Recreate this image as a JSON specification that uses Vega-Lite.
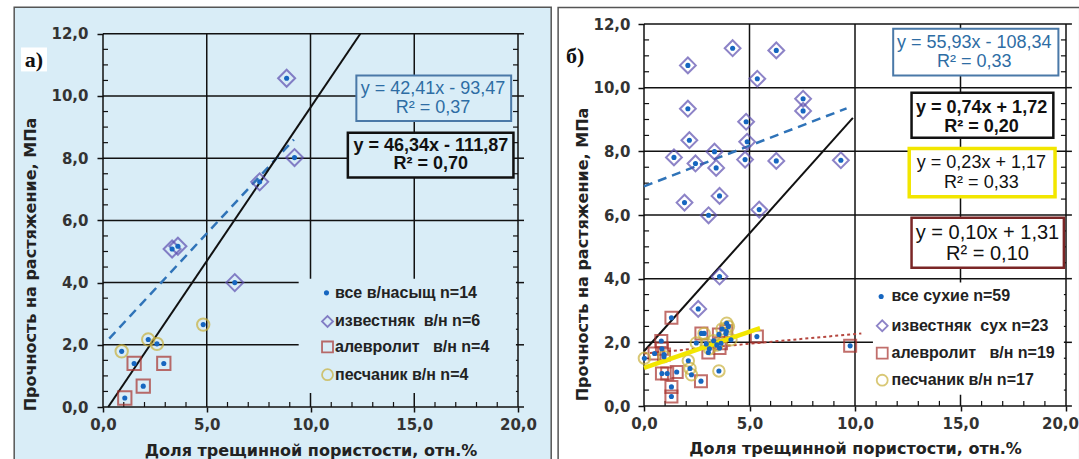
{
  "$schema": "https://vega.github.io/schema/vega-lite/v6.json",
  "background": "white",
  "padding": {"left": 13, "top": 6, "right": 0, "bottom": 0},
  "spacing": 5,
  "config": {
    "view": {"stroke": null},
    "axis": {
      "grid": false, "domain": false,
      "tickColor": "#111", "tickWidth": 1.5,
      "labelFont": "DejaVu Sans", "labelFontWeight": "bold", "labelFontSize": 15, "labelColor": "#333",
      "labelFlush": false, "labelOverlap": false,
      "labelExpr": "replace(format(datum.value, '.1f'), '.', ',')",
      "titleFont": "DejaVu Sans", "titleFontWeight": "bold", "titleFontSize": 16, "titleColor": "#222"
    }
  },
  "datasets": {
    "a_pts": [
      {"x": 8.85, "y": 10.57, "k": "известняк"},
      {"x": 9.23, "y": 8.02, "k": "известняк"},
      {"x": 7.55, "y": 7.24, "k": "известняк"},
      {"x": 3.33, "y": 5.08, "k": "известняк"},
      {"x": 3.61, "y": 5.17, "k": "известняк"},
      {"x": 6.35, "y": 4.0, "k": "известняк"},
      {"x": 1.05, "y": 0.29, "k": "алевролит"},
      {"x": 1.94, "y": 0.67, "k": "алевролит"},
      {"x": 1.5, "y": 1.4, "k": "алевролит"},
      {"x": 2.93, "y": 1.4, "k": "алевролит"},
      {"x": 0.9, "y": 1.79, "k": "песчаник"},
      {"x": 2.18, "y": 2.17, "k": "песчаник"},
      {"x": 2.6, "y": 2.03, "k": "песчаник"},
      {"x": 4.83, "y": 2.65, "k": "песчаник"}
    ],
    "b_pts": [
      {"x": 4.2, "y": 11.24, "k": "известняк"},
      {"x": 6.27, "y": 11.17, "k": "известняк"},
      {"x": 2.08, "y": 10.7, "k": "известняк"},
      {"x": 5.37, "y": 10.28, "k": "известняк"},
      {"x": 7.54, "y": 9.65, "k": "известняк"},
      {"x": 7.54, "y": 9.27, "k": "известняк"},
      {"x": 2.08, "y": 9.34, "k": "известняк"},
      {"x": 4.84, "y": 8.93, "k": "известняк"},
      {"x": 2.15, "y": 8.35, "k": "известняк"},
      {"x": 4.89, "y": 8.3, "k": "известняк"},
      {"x": 3.34, "y": 7.99, "k": "известняк"},
      {"x": 1.42, "y": 7.81, "k": "известняк"},
      {"x": 2.44, "y": 7.62, "k": "известняк"},
      {"x": 3.42, "y": 7.48, "k": "известняк"},
      {"x": 4.79, "y": 7.74, "k": "известняк"},
      {"x": 6.27, "y": 7.7, "k": "известняк"},
      {"x": 9.33, "y": 7.72, "k": "известняк"},
      {"x": 3.58, "y": 6.6, "k": "известняк"},
      {"x": 1.92, "y": 6.39, "k": "известняк"},
      {"x": 3.06, "y": 5.99, "k": "известняк"},
      {"x": 5.46, "y": 6.17, "k": "известняк"},
      {"x": 3.58, "y": 4.07, "k": "известняк"},
      {"x": 2.57, "y": 3.05, "k": "известняк"},
      {"x": 1.3, "y": 2.77, "k": "алевролит"},
      {"x": 0.82, "y": 2.04, "k": "алевролит"},
      {"x": 0.85, "y": 1.8, "k": "алевролит"},
      {"x": 0.5, "y": 1.65, "k": "алевролит"},
      {"x": 0.95, "y": 1.62, "k": "алевролит"},
      {"x": 0.85, "y": 1.02, "k": "алевролит"},
      {"x": 1.1, "y": 1.02, "k": "алевролит"},
      {"x": 1.55, "y": 1.07, "k": "алевролит"},
      {"x": 1.3, "y": 0.6, "k": "алевролит"},
      {"x": 1.3, "y": 0.3, "k": "алевролит"},
      {"x": 2.7, "y": 0.78, "k": "алевролит"},
      {"x": 2.72, "y": 2.28, "k": "алевролит"},
      {"x": 3.05, "y": 1.68, "k": "алевролит"},
      {"x": 3.55, "y": 2.25, "k": "алевролит"},
      {"x": 3.65, "y": 1.97, "k": "алевролит"},
      {"x": 3.58, "y": 1.82, "k": "алевролит"},
      {"x": 3.9, "y": 2.35, "k": "алевролит"},
      {"x": 5.35, "y": 2.18, "k": "алевролит"},
      {"x": 9.77, "y": 1.89, "k": "алевролит"},
      {"x": 0.02, "y": 1.5, "k": "песчаник"},
      {"x": 0.95, "y": 1.55, "k": "песчаник"},
      {"x": 2.1, "y": 1.42, "k": "песчаник"},
      {"x": 2.18, "y": 1.18, "k": "песчаник"},
      {"x": 2.25, "y": 0.98, "k": "песчаник"},
      {"x": 3.55, "y": 1.1, "k": "песчаник"},
      {"x": 2.48, "y": 1.98, "k": "песчаник"},
      {"x": 2.85, "y": 2.28, "k": "песчаник"},
      {"x": 3.1, "y": 1.8, "k": "песчаник"},
      {"x": 3.3, "y": 2.05, "k": "песчаник"},
      {"x": 3.92, "y": 2.6, "k": "песчаник"},
      {"x": 3.7, "y": 2.42, "k": "песчаник"},
      {"x": 4.12, "y": 2.08, "k": "песчаник"},
      {"x": 3.88, "y": 2.28, "k": "песчаник"},
      {"x": 2.95, "y": 1.95, "k": "песчаник"},
      {"x": 3.45, "y": 1.92, "k": "песчаник"},
      {"x": 4.0, "y": 2.5, "k": "песчаник"}
    ],
    "vgrid": [{"x": 0}, {"x": 5}, {"x": 10}, {"x": 15}, {"x": 20}],
    "hgrid": [{"y": 0}, {"y": 2}, {"y": 4}, {"y": 6}, {"y": 8}, {"y": 10}, {"y": 12}],
    "xminor": [{"x": 1}, {"x": 2}, {"x": 3}, {"x": 4}, {"x": 6}, {"x": 7}, {"x": 8}, {"x": 9}, {"x": 11}, {"x": 12}, {"x": 13}, {"x": 14}, {"x": 16}, {"x": 17}, {"x": 18}, {"x": 19}],
    "yminor": [{"y": 0.5}, {"y": 1}, {"y": 1.5}, {"y": 2.5}, {"y": 3}, {"y": 3.5}, {"y": 4.5}, {"y": 5}, {"y": 5.5}, {"y": 6.5}, {"y": 7}, {"y": 7.5}, {"y": 8.5}, {"y": 9}, {"y": 9.5}, {"y": 10.5}, {"y": 11}, {"y": 11.5}],
    "ymajor": [{"y": 0}, {"y": 2}, {"y": 4}, {"y": 6}, {"y": 8}, {"y": 10}, {"y": 12}]
  },
  "hconcat": [
    {
      "width": 415,
      "height": 383,
      "layer": [
        {
          "data": {"values": [{}]},
          "mark": {"type": "rect", "fill": "#d9edf7", "stroke": "#555555", "strokeWidth": 1.5},
          "encoding": {
            "x": {"datum": -4.28, "type": "quantitative", "scale": {"domain": [0, 20], "nice": false, "zero": false},
              "axis": {"zindex": 1, "values": [0, 5, 10, 15, 20], "title": "Доля трещинной пористости, отн.%", "tickSize": 5, "labelPadding": 5, "titlePadding": 10}},
            "x2": {"datum": 21.6},
            "y": {"datum": -1.75, "type": "quantitative", "scale": {"domain": [0, 12.315], "nice": false, "zero": false},
              "axis": {"zindex": 1, "values": [0, 2, 4, 6, 8, 10, 12], "title": "Прочность на растяжение, МПа", "tickSize": 6, "labelPadding": 9, "titlePadding": 12, "titleY": 240}},
            "y2": {"datum": 12.85}
          }
        },
        {
          "data": {"values": [{}]},
          "mark": {"type": "rect", "fill": "white"},
          "encoding": {"x": {"datum": -3.95}, "x2": {"datum": -2.7}, "y": {"datum": 10.79}, "y2": {"datum": 11.56}}
        },
        {
          "data": {"values": [{"t": "а)", "x": -3.33, "y": 11.15}]},
          "mark": {"type": "text", "font": "Liberation Serif", "fontWeight": "bold", "fontSize": 22, "color": "#111", "baseline": "middle"},
          "encoding": {"x": {"field": "x", "type": "quantitative"}, "y": {"field": "y", "type": "quantitative"}, "text": {"field": "t"}}
        },
        {
          "data": {"name": "vgrid"},
          "mark": {"type": "rule", "color": "#111", "strokeWidth": 1.5},
          "encoding": {"x": {"field": "x", "type": "quantitative"}, "y": {"datum": 0}, "y2": {"datum": 12}}
        },
        {
          "data": {"name": "hgrid"},
          "mark": {"type": "rule", "color": "#111", "strokeWidth": 1.5},
          "encoding": {"y": {"field": "y", "type": "quantitative"}, "x": {"datum": 0}, "x2": {"datum": 20}}
        },
        {
          "data": {"name": "xminor"},
          "mark": {"type": "rule", "color": "#111", "strokeWidth": 1.2},
          "encoding": {"x": {"field": "x", "type": "quantitative"}, "y": {"datum": 0}, "y2": {"datum": 0.16}}
        },
        {
          "data": {"name": "yminor"},
          "mark": {"type": "rule", "color": "#111", "strokeWidth": 1.2},
          "encoding": {"y": {"field": "y", "type": "quantitative"}, "x": {"datum": 0}, "x2": {"datum": 0.24}}
        },
        {
          "data": {"name": "yminor"},
          "mark": {"type": "rule", "color": "#111", "strokeWidth": 1.2},
          "encoding": {"y": {"field": "y", "type": "quantitative"}, "x": {"datum": 19.76}, "x2": {"datum": 20}}
        },
        {
          "data": {"name": "ymajor"},
          "mark": {"type": "rule", "color": "#111", "strokeWidth": 1.5},
          "encoding": {"y": {"field": "y", "type": "quantitative"}, "x": {"datum": 20}, "x2": {"datum": 20.29}}
        },
        {
          "data": {"values": [{"x": 0.3, "y": 2.2}, {"x": 9.2, "y": 8.6}]},
          "mark": {"type": "line", "color": "#2f73b8", "strokeWidth": 2.5, "strokeDash": [9, 6]},
          "encoding": {"x": {"field": "x", "type": "quantitative"}, "y": {"field": "y", "type": "quantitative"}}
        },
        {
          "data": {"values": [{"x": 0.25, "y": 0}, {"x": 12.4, "y": 12}]},
          "mark": {"type": "line", "color": "#111", "strokeWidth": 2},
          "encoding": {"x": {"field": "x", "type": "quantitative"}, "y": {"field": "y", "type": "quantitative"}}
        },
        {
          "data": {"name": "a_pts"},
          "transform": [{"filter": "datum.k === 'известняк'"}],
          "mark": {"type": "point", "shape": "diamond", "filled": false, "color": "#5d4fb0", "strokeWidth": 2, "size": 289},
          "encoding": {"x": {"field": "x", "type": "quantitative"}, "y": {"field": "y", "type": "quantitative"}}
        },
        {
          "data": {"name": "a_pts"},
          "transform": [{"filter": "datum.k === 'алевролит'"}],
          "mark": {"type": "point", "shape": "square", "filled": false, "color": "#a8322d", "strokeWidth": 2, "size": 177},
          "encoding": {"x": {"field": "x", "type": "quantitative"}, "y": {"field": "y", "type": "quantitative"}}
        },
        {
          "data": {"name": "a_pts"},
          "transform": [{"filter": "datum.k === 'песчаник'"}],
          "mark": {"type": "point", "shape": "circle", "filled": false, "color": "#c9b13c", "strokeWidth": 2, "size": 154},
          "encoding": {"x": {"field": "x", "type": "quantitative"}, "y": {"field": "y", "type": "quantitative"}}
        },
        {
          "data": {"name": "a_pts"},
          "mark": {"type": "circle", "color": "#1666c0", "opacity": 1, "size": 26},
          "encoding": {"x": {"field": "x", "type": "quantitative"}, "y": {"field": "y", "type": "quantitative"}}
        },
        {
          "data": {"values": [{"x": 12.21, "x2": 19.67, "y": 9.2, "y2": 10.66}]},
          "mark": {"type": "rect", "fill": "#d9edf7", "stroke": "#4a79a8", "strokeWidth": 2},
          "encoding": {"x": {"field": "x", "type": "quantitative"}, "x2": {"field": "x2"}, "y": {"field": "y", "type": "quantitative"}, "y2": {"field": "y2"}}
        },
        {
          "data": {"values": [{"x": 11.8, "x2": 19.78, "y": 7.38, "y2": 8.82}]},
          "mark": {"type": "rect", "fill": "#d9edf7", "stroke": "#111", "strokeWidth": 2.5},
          "encoding": {"x": {"field": "x", "type": "quantitative"}, "x2": {"field": "x2"}, "y": {"field": "y", "type": "quantitative"}, "y2": {"field": "y2"}}
        },
        {
          "data": {"values": [{"x": 15.9, "y": 10.21, "t": "y = 42,41x - 93,47"}, {"x": 15.9, "y": 9.63, "t": "R² = 0,37"}]},
          "mark": {"type": "text", "font": "Liberation Sans", "fontSize": 18, "color": "#2e6da4", "baseline": "middle"},
          "encoding": {"x": {"field": "x", "type": "quantitative"}, "y": {"field": "y", "type": "quantitative"}, "text": {"field": "t"}}
        },
        {
          "data": {"values": [{"x": 15.8, "y": 8.4, "t": "y = 46,34x - 111,87"}, {"x": 15.8, "y": 7.81, "t": "R² = 0,70"}]},
          "mark": {"type": "text", "font": "Liberation Sans", "fontSize": 18, "fontWeight": "bold", "color": "#111", "baseline": "middle"},
          "encoding": {"x": {"field": "x", "type": "quantitative"}, "y": {"field": "y", "type": "quantitative"}, "text": {"field": "t"}}
        },
        {
          "data": {"values": [{}]},
          "mark": {"type": "rect", "fill": "#d9edf7"},
          "encoding": {"x": {"datum": 9.43}, "x2": {"datum": 19.9}, "y": {"datum": 0.45}, "y2": {"datum": 4.12}}
        },
        {
          "data": {"values": [{"x": 10.82, "y": 2.75, "k": "известняк"}, {"x": 10.82, "y": 1.93, "k": "алевролит"}, {"x": 10.82, "y": 1.04, "k": "песчаник"}]},
          "mark": {"type": "point", "filled": false, "strokeWidth": 1.8, "size": 120},
          "encoding": {
            "x": {"field": "x", "type": "quantitative"},
            "y": {"field": "y", "type": "quantitative"},
            "shape": {"field": "k", "type": "nominal", "scale": {"domain": ["известняк", "алевролит", "песчаник"], "range": ["diamond", "square", "circle"]}, "legend": null},
            "color": {"field": "k", "type": "nominal", "scale": {"domain": ["известняк", "алевролит", "песчаник"], "range": ["#5d4fb0", "#a8322d", "#c9b13c"]}, "legend": null}
          }
        },
        {
          "data": {"values": [{"x": 10.77, "y": 3.67}]},
          "mark": {"type": "circle", "color": "#1666c0", "opacity": 1, "size": 26},
          "encoding": {"x": {"field": "x", "type": "quantitative"}, "y": {"field": "y", "type": "quantitative"}}
        },
        {
          "data": {"values": [
            {"x": 11.18, "y": 3.67, "t": "все в/насыщ n=14"},
            {"x": 11.18, "y": 2.75, "t": "известняк\u00a0 в/н n=6"},
            {"x": 11.18, "y": 1.93, "t": "алевролит\u00a0\u00a0 в/н n=4"},
            {"x": 11.18, "y": 1.04, "t": "песчаник в/н n=4"}
          ]},
          "mark": {"type": "text", "font": "Liberation Sans", "fontSize": 16, "fontWeight": "bold", "color": "#222", "align": "left", "baseline": "middle"},
          "encoding": {"x": {"field": "x", "type": "quantitative"}, "y": {"field": "y", "type": "quantitative"}, "text": {"field": "t"}}
        }
      ]
    },
    {
      "width": 422,
      "height": 382,
      "layer": [
        {
          "data": {"values": [{}]},
          "mark": {"type": "rect", "fill": "white", "stroke": "#555555", "strokeWidth": 1.5},
          "encoding": {
            "x": {"datum": -4.07, "type": "quantitative", "scale": {"domain": [0, 20], "nice": false, "zero": false},
              "axis": {"zindex": 1, "values": [0, 5, 10, 15, 20], "title": "Доля трещинной пористости, отн.%", "tickSize": 5, "labelPadding": 5, "titlePadding": 9,
                "labelOffset": {"condition": {"test": "datum.value === 20", "value": -6}, "value": 0}}},
            "x2": {"datum": 20.65},
            "y": {"datum": -1.75, "type": "quantitative", "scale": {"domain": [0, 12], "nice": false, "zero": false},
              "axis": {"zindex": 1, "values": [0, 2, 4, 6, 8, 10, 12], "title": "Прочность на растяжение, МПа", "tickSize": 6, "labelPadding": 8, "titlePadding": 2, "titleY": 230}},
            "y2": {"datum": 12.52}
          }
        },
        {
          "data": {"values": [{"t": "б)", "x": -3.26, "y": 10.98}]},
          "mark": {"type": "text", "font": "Liberation Serif", "fontWeight": "bold", "fontSize": 22, "color": "#111", "baseline": "middle"},
          "encoding": {"x": {"field": "x", "type": "quantitative"}, "y": {"field": "y", "type": "quantitative"}, "text": {"field": "t"}}
        },
        {
          "data": {"name": "vgrid"},
          "mark": {"type": "rule", "color": "#111", "strokeWidth": 1.5},
          "encoding": {"x": {"field": "x", "type": "quantitative"}, "y": {"datum": 0}, "y2": {"datum": 12}}
        },
        {
          "data": {"name": "hgrid"},
          "mark": {"type": "rule", "color": "#111", "strokeWidth": 1.5},
          "encoding": {"y": {"field": "y", "type": "quantitative"}, "x": {"datum": 0}, "x2": {"datum": 20}}
        },
        {
          "data": {"name": "xminor"},
          "mark": {"type": "rule", "color": "#111", "strokeWidth": 1.2},
          "encoding": {"x": {"field": "x", "type": "quantitative"}, "y": {"datum": 0}, "y2": {"datum": 0.16}}
        },
        {
          "data": {"name": "yminor"},
          "mark": {"type": "rule", "color": "#111", "strokeWidth": 1.2},
          "encoding": {"y": {"field": "y", "type": "quantitative"}, "x": {"datum": 0}, "x2": {"datum": 0.24}}
        },
        {
          "data": {"name": "yminor"},
          "mark": {"type": "rule", "color": "#111", "strokeWidth": 1.2},
          "encoding": {"y": {"field": "y", "type": "quantitative"}, "x": {"datum": 19.76}, "x2": {"datum": 20}}
        },
        {
          "data": {"name": "ymajor"},
          "mark": {"type": "rule", "color": "#111", "strokeWidth": 1.5},
          "encoding": {"y": {"field": "y", "type": "quantitative"}, "x": {"datum": 20}, "x2": {"datum": 20.28}}
        },
        {
          "data": {"values": [{"x": 0, "y": 6.9}, {"x": 9.6, "y": 9.35}]},
          "mark": {"type": "line", "color": "#2f73b8", "strokeWidth": 2.5, "strokeDash": [9, 6]},
          "encoding": {"x": {"field": "x", "type": "quantitative"}, "y": {"field": "y", "type": "quantitative"}}
        },
        {
          "data": {"values": [{"x": 0, "y": 1.65}, {"x": 10.3, "y": 2.28}]},
          "mark": {"type": "line", "color": "#b5473f", "strokeWidth": 2, "strokeDash": [3, 3]},
          "encoding": {"x": {"field": "x", "type": "quantitative"}, "y": {"field": "y", "type": "quantitative"}}
        },
        {
          "data": {"values": [{"x": 0, "y": 1.72}, {"x": 9.9, "y": 9.05}]},
          "mark": {"type": "line", "color": "#111", "strokeWidth": 2},
          "encoding": {"x": {"field": "x", "type": "quantitative"}, "y": {"field": "y", "type": "quantitative"}}
        },
        {
          "data": {"name": "b_pts"},
          "transform": [{"filter": "datum.k === 'известняк'"}],
          "mark": {"type": "point", "shape": "diamond", "filled": false, "color": "#5d4fb0", "strokeWidth": 2, "size": 250},
          "encoding": {"x": {"field": "x", "type": "quantitative"}, "y": {"field": "y", "type": "quantitative"}}
        },
        {
          "data": {"name": "b_pts"},
          "transform": [{"filter": "datum.k === 'алевролит'"}],
          "mark": {"type": "point", "shape": "square", "filled": false, "color": "#a8322d", "strokeWidth": 2, "size": 144},
          "encoding": {"x": {"field": "x", "type": "quantitative"}, "y": {"field": "y", "type": "quantitative"}}
        },
        {
          "data": {"name": "b_pts"},
          "transform": [{"filter": "datum.k === 'песчаник'"}],
          "mark": {"type": "point", "shape": "circle", "filled": false, "color": "#c9b13c", "strokeWidth": 2, "size": 133},
          "encoding": {"x": {"field": "x", "type": "quantitative"}, "y": {"field": "y", "type": "quantitative"}}
        },
        {
          "data": {"values": [{"x": 0, "y": 1.2}, {"x": 5.5, "y": 2.45}]},
          "mark": {"type": "line", "color": "#f2e600", "strokeWidth": 4.5},
          "encoding": {"x": {"field": "x", "type": "quantitative"}, "y": {"field": "y", "type": "quantitative"}}
        },
        {
          "data": {"name": "b_pts"},
          "mark": {"type": "circle", "color": "#1666c0", "opacity": 1, "size": 26},
          "encoding": {"x": {"field": "x", "type": "quantitative"}, "y": {"field": "y", "type": "quantitative"}}
        },
        {
          "data": {"values": [{"x": 11.81, "x2": 19.64, "y": 10.38, "y2": 11.85}]},
          "mark": {"type": "rect", "fill": "white", "stroke": "#4a79a8", "strokeWidth": 2},
          "encoding": {"x": {"field": "x", "type": "quantitative"}, "x2": {"field": "x2"}, "y": {"field": "y", "type": "quantitative"}, "y2": {"field": "y2"}}
        },
        {
          "data": {"values": [{"x": 12.68, "x2": 19.4, "y": 8.43, "y2": 9.84}]},
          "mark": {"type": "rect", "fill": "white", "stroke": "#111", "strokeWidth": 2.5},
          "encoding": {"x": {"field": "x", "type": "quantitative"}, "x2": {"field": "x2"}, "y": {"field": "y", "type": "quantitative"}, "y2": {"field": "y2"}}
        },
        {
          "data": {"values": [{"x": 12.57, "x2": 19.48, "y": 6.57, "y2": 8.09}]},
          "mark": {"type": "rect", "fill": "white", "stroke": "#f2e600", "strokeWidth": 3.5},
          "encoding": {"x": {"field": "x", "type": "quantitative"}, "x2": {"field": "x2"}, "y": {"field": "y", "type": "quantitative"}, "y2": {"field": "y2"}}
        },
        {
          "data": {"values": [{"x": 12.68, "x2": 19.9, "y": 4.34, "y2": 5.91}]},
          "mark": {"type": "rect", "fill": "white", "stroke": "#7b2626", "strokeWidth": 2.5},
          "encoding": {"x": {"field": "x", "type": "quantitative"}, "x2": {"field": "x2"}, "y": {"field": "y", "type": "quantitative"}, "y2": {"field": "y2"}}
        },
        {
          "data": {"values": [{"x": 15.65, "y": 11.41, "t": "y = 55,93x - 108,34"}, {"x": 15.65, "y": 10.8, "t": "R² = 0,33"}]},
          "mark": {"type": "text", "font": "Liberation Sans", "fontSize": 18, "color": "#2e6da4", "baseline": "middle"},
          "encoding": {"x": {"field": "x", "type": "quantitative"}, "y": {"field": "y", "type": "quantitative"}, "text": {"field": "t"}}
        },
        {
          "data": {"values": [{"x": 16.0, "y": 9.37, "t": "y = 0,74x + 1,72"}, {"x": 16.0, "y": 8.76, "t": "R² = 0,20"}]},
          "mark": {"type": "text", "font": "Liberation Sans", "fontSize": 18, "fontWeight": "bold", "color": "#111", "baseline": "middle"},
          "encoding": {"x": {"field": "x", "type": "quantitative"}, "y": {"field": "y", "type": "quantitative"}, "text": {"field": "t"}}
        },
        {
          "data": {"values": [{"x": 15.99, "y": 7.64, "t": "y = 0,23x + 1,17"}, {"x": 15.99, "y": 7.01, "t": "R² = 0,33"}]},
          "mark": {"type": "text", "font": "Liberation Sans", "fontSize": 18, "color": "#111", "baseline": "middle"},
          "encoding": {"x": {"field": "x", "type": "quantitative"}, "y": {"field": "y", "type": "quantitative"}, "text": {"field": "t"}}
        },
        {
          "data": {"values": [{"x": 16.28, "y": 5.44, "t": "y = 0,10x + 1,31"}, {"x": 16.28, "y": 4.76, "t": "R² = 0,10"}]},
          "mark": {"type": "text", "font": "Liberation Sans", "fontSize": 20, "color": "#111", "baseline": "middle"},
          "encoding": {"x": {"field": "x", "type": "quantitative"}, "y": {"field": "y", "type": "quantitative"}, "text": {"field": "t"}}
        },
        {
          "data": {"values": [{}]},
          "mark": {"type": "rect", "fill": "white"},
          "encoding": {"x": {"datum": 10.85}, "x2": {"datum": 19.9}, "y": {"datum": 0.35}, "y2": {"datum": 3.88}}
        },
        {
          "data": {"values": [{"x": 11.29, "y": 2.52, "k": "известняк"}, {"x": 11.29, "y": 1.66, "k": "алевролит"}, {"x": 11.29, "y": 0.81, "k": "песчаник"}]},
          "mark": {"type": "point", "filled": false, "strokeWidth": 1.8, "size": 120},
          "encoding": {
            "x": {"field": "x", "type": "quantitative"},
            "y": {"field": "y", "type": "quantitative"},
            "shape": {"field": "k", "type": "nominal", "scale": {"domain": ["известняк", "алевролит", "песчаник"], "range": ["diamond", "square", "circle"]}, "legend": null},
            "color": {"field": "k", "type": "nominal", "scale": {"domain": ["известняк", "алевролит", "песчаник"], "range": ["#5d4fb0", "#a8322d", "#c9b13c"]}, "legend": null}
          }
        },
        {
          "data": {"values": [{"x": 11.24, "y": 3.44}]},
          "mark": {"type": "circle", "color": "#1666c0", "opacity": 1, "size": 26},
          "encoding": {"x": {"field": "x", "type": "quantitative"}, "y": {"field": "y", "type": "quantitative"}}
        },
        {
          "data": {"values": [
            {"x": 11.73, "y": 3.44, "t": "все сухие n=59"},
            {"x": 11.73, "y": 2.52, "t": "известняк\u00a0 сух n=23"},
            {"x": 11.73, "y": 1.66, "t": "алевролит\u00a0\u00a0 в/н n=19"},
            {"x": 11.73, "y": 0.81, "t": "песчаник в/н n=17"}
          ]},
          "mark": {"type": "text", "font": "Liberation Sans", "fontSize": 16, "fontWeight": "bold", "color": "#222", "align": "left", "baseline": "middle"},
          "encoding": {"x": {"field": "x", "type": "quantitative"}, "y": {"field": "y", "type": "quantitative"}, "text": {"field": "t"}}
        }
      ]
    }
  ]
}
